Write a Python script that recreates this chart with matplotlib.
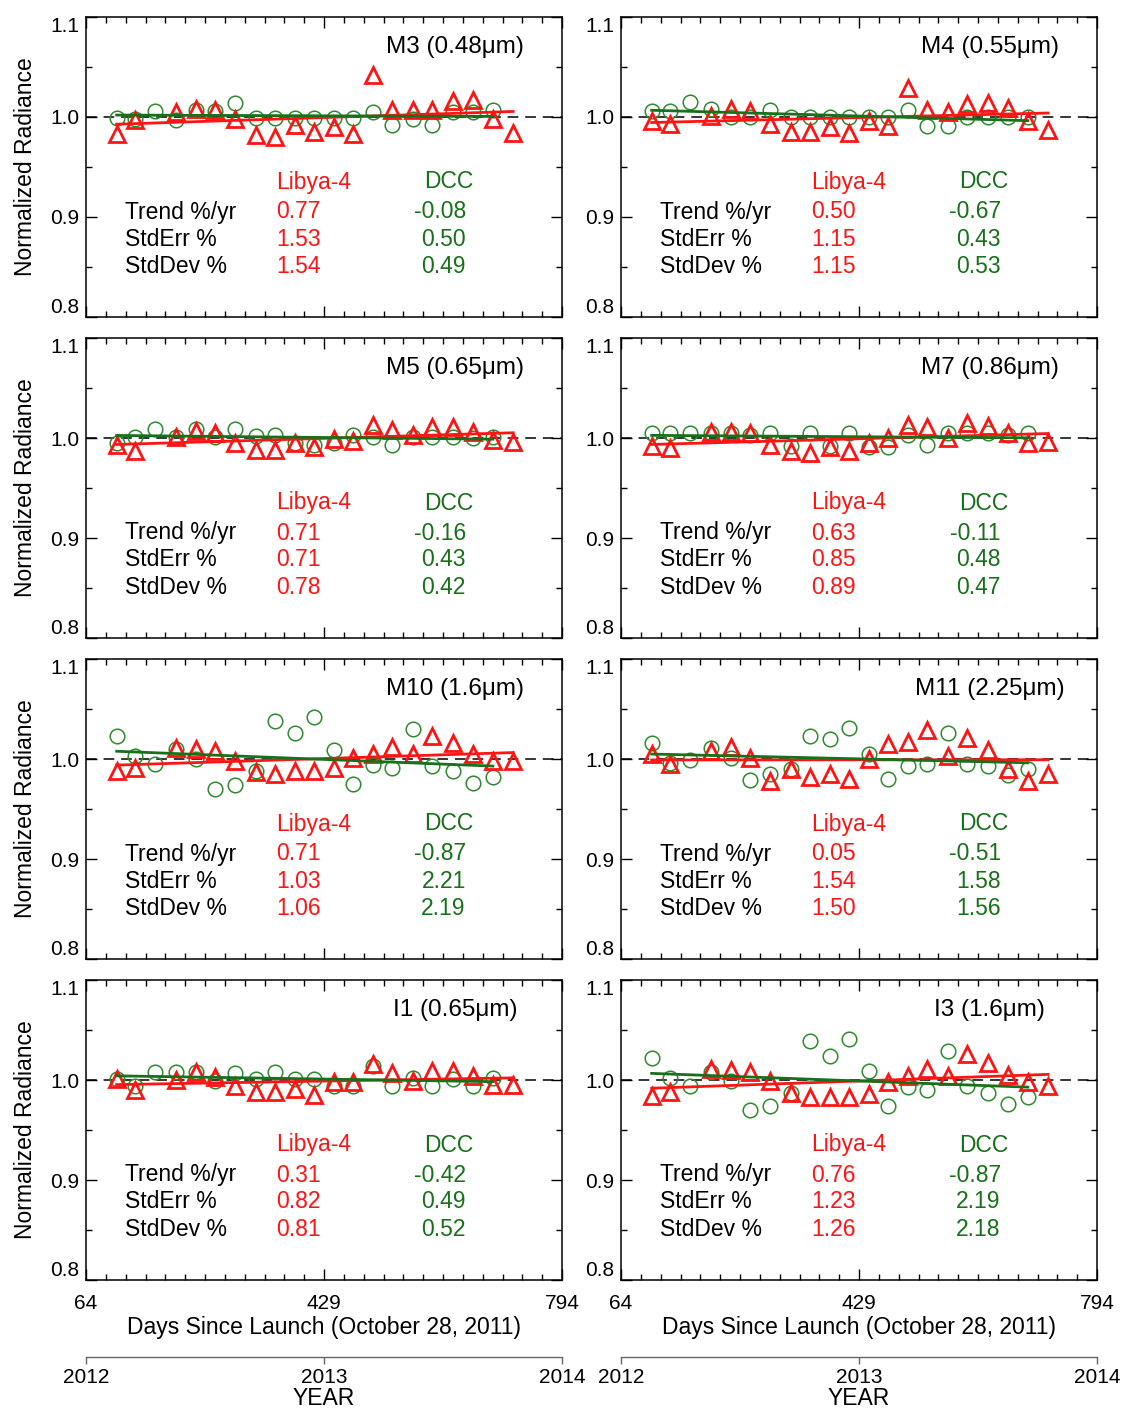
import numpy as np
import matplotlib
matplotlib.use('Agg')
import matplotlib.pyplot as plt
from matplotlib.ticker import FixedLocator, MultipleLocator, NullLocator

plt.rcParams['font.family'] = ['Liberation Sans', 'DejaVu Sans']

# days since launch of the monthly points
dcc_days = [111, 139, 170, 202, 232, 262, 293, 324, 354, 384,
            414, 445, 474, 504, 534, 565, 595, 627, 657, 688]
lib_days = [111, 139, 202, 232, 262, 293, 324, 354, 384, 414,
            445, 474, 504, 534, 565, 595, 627, 657, 688, 719]

bands = ["M3 (0.48\u03bcm)", "M4 (0.55\u03bcm)", "M5 (0.65\u03bcm)", "M7 (0.86\u03bcm)",
         "M10 (1.6\u03bcm)", "M11 (2.25\u03bcm)", "I1 (0.65\u03bcm)", "I3 (1.6\u03bcm)"]

lib_m3 = [0.983, 0.997, 1.005, 1.008, 1.007, 0.998, 0.982, 0.980, 0.992, 0.985,
          0.990, 0.983, 1.042, 1.007, 1.007, 1.007, 1.016, 1.017, 0.998, 0.984]
dcc_m3 = [0.999, 0.998, 1.006, 0.997, 1.007, 1.006, 1.014, 0.999, 0.999, 0.999,
          0.999, 0.999, 0.999, 1.005, 0.992, 0.998, 0.992, 1.005, 1.005, 1.007]
lib_m4 = [0.996, 0.993, 1.001, 1.008, 1.006, 0.993, 0.985, 0.985, 0.990, 0.984,
          0.996, 0.991, 1.029, 1.007, 1.005, 1.013, 1.014, 1.009, 0.996, 0.987]
dcc_m4 = [1.006, 1.006, 1.015, 1.008, 1.000, 1.000, 1.007, 1.000, 1.000, 1.000,
          1.000, 1.000, 1.000, 1.007, 0.991, 0.991, 1.000, 1.000, 1.000, 1.000]
lib_m5 = [0.993, 0.987, 1.001, 1.007, 1.005, 0.995, 0.988, 0.988, 0.995, 0.991,
          0.999, 0.997, 1.013, 1.008, 1.003, 1.011, 1.011, 1.006, 0.998, 0.996]
dcc_m5 = [0.995, 1.001, 1.009, 1.001, 1.009, 1.001, 1.009, 1.002, 1.003, 0.995,
          0.993, 0.995, 1.003, 1.001, 0.993, 1.001, 1.001, 1.001, 1.000, 1.001]
lib_m7 = [0.992, 0.990, 1.006, 1.006, 1.005, 0.993, 0.987, 0.985, 0.991, 0.987,
          0.995, 1.000, 1.013, 1.011, 1.000, 1.015, 1.012, 1.005, 0.995, 0.996]
dcc_m7 = [1.005, 1.005, 1.005, 1.005, 1.005, 1.003, 1.005, 0.992, 1.005, 0.992,
          1.005, 0.991, 0.991, 1.003, 0.993, 1.005, 1.005, 1.005, 1.003, 1.005]
lib_m10 = [0.988, 0.991, 1.011, 1.010, 1.008, 0.998, 0.987, 0.985, 0.988, 0.988,
           0.991, 1.001, 1.005, 1.012, 1.005, 1.023, 1.016, 1.005, 0.998, 0.998]
dcc_m10 = [1.023, 1.003, 0.995, 1.010, 1.000, 0.970, 0.974, 0.988, 1.038, 1.026,
           1.042, 1.009, 0.975, 0.994, 0.991, 1.030, 0.993, 0.988, 0.976, 0.982]
lib_m11 = [1.005, 0.995, 1.008, 1.012, 1.001, 0.978, 0.990, 0.982, 0.985, 0.980,
           1.000, 1.015, 1.017, 1.029, 1.003, 1.021, 1.009, 0.990, 0.978, 0.985]
dcc_m11 = [1.016, 0.996, 0.999, 1.011, 1.001, 0.979, 0.985, 0.990, 1.023, 1.020,
           1.031, 1.005, 0.980, 0.993, 0.995, 1.026, 0.995, 0.993, 0.984, 0.990]
lib_i1 = [1.001, 0.990, 1.000, 1.008, 1.003, 0.994, 0.988, 0.988, 0.991, 0.985,
          0.998, 0.998, 1.016, 1.007, 0.999, 1.009, 1.009, 1.004, 0.995, 0.995]
dcc_i1 = [1.001, 0.994, 1.008, 1.008, 1.008, 0.999, 1.007, 1.001, 1.008, 1.001,
          1.001, 0.994, 0.994, 1.014, 0.994, 1.002, 0.994, 1.001, 0.994, 1.002]
lib_i3 = [0.984, 0.988, 1.011, 1.010, 1.008, 0.999, 0.987, 0.983, 0.983, 0.983,
          0.986, 0.998, 1.004, 1.011, 1.004, 1.026, 1.017, 1.005, 0.998, 0.994]
dcc_i3 = [1.022, 1.002, 0.994, 1.008, 0.999, 0.970, 0.974, 0.987, 1.039, 1.024,
          1.041, 1.009, 0.974, 0.993, 0.990, 1.029, 0.994, 0.987, 0.976, 0.983]

lib_trend = ["0.77", "0.50", "0.71", "0.63", "0.71", "0.05", "0.31", "0.76"]
lib_stderr = ["1.53", "1.15", "0.71", "0.85", "1.03", "1.54", "0.82", "1.23"]
lib_stddev = ["1.54", "1.15", "0.78", "0.89", "1.06", "1.50", "0.81", "1.26"]
dcc_trend = ["-0.08", "-0.67", "-0.16", "-0.11", "-0.87", "-0.51", "-0.42", "-0.87"]
dcc_stderr = ["0.50", "0.43", "0.43", "0.48", "2.21", "1.58", "0.49", "2.19"]
dcc_stddev = ["0.49", "0.53", "0.42", "0.47", "2.19", "1.56", "0.52", "2.18"]

lib_all = [lib_m3, lib_m4, lib_m5, lib_m7, lib_m10, lib_m11, lib_i1, lib_i3]
dcc_all = [dcc_m3, dcc_m4, dcc_m5, dcc_m7, dcc_m10, dcc_m11, dcc_i1, dcc_i3]

RED = '#ff1414'
GREEN = '#17701a'
GREEN_M = '#2f8a2f'
FS = 16.5
TFS = 15

fig = plt.figure(figsize=(11.22, 14.09), dpi=100)
lefts = [86 / 1122, 621 / 1122]
w = 476 / 1122
h = 300 / 1409
tops = [17, 338, 659, 980]

for i in range(8):
    row, col = divmod(i, 2)
    ax = fig.add_axes([lefts[col], 1 - (tops[row] + 300) / 1409, w, h])
    lib = np.array(lib_all[i])
    dcc = np.array(dcc_all[i])

    ax.axhline(1.0, color='k', ls=(0, (7, 4.5)), lw=1.1, zorder=1)
    ax.plot(dcc_days, dcc, 'o', mfc='none', mec=GREEN_M, ms=10.5, mew=1.1, zorder=2)
    ax.plot(lib_days, lib, '^', mfc='none', mec=RED, ms=11.5, mew=2.0, zorder=3)

    # linear trend lines
    p = np.polyfit(lib_days, lib, 1)
    xs = np.array([lib_days[0], lib_days[-1]])
    ax.plot(xs, np.polyval(p, xs), color=RED, lw=2, zorder=4)
    p = np.polyfit(dcc_days, dcc, 1)
    xs = np.array([dcc_days[0], dcc_days[-1]])
    ax.plot(xs, np.polyval(p, xs), color=GREEN, lw=2, zorder=5)

    ax.set_xlim(64, 794)
    ax.set_ylim(0.8, 1.1)
    ax.set_xticks([64, 429, 794])
    ax.xaxis.set_minor_locator(FixedLocator(np.arange(64, 795, 365 / 12)))
    ax.set_yticks([0.8, 0.9, 1.0, 1.1])
    ylabs = ax.set_yticklabels(["0.8", "0.9", "1.0", "1.1"])
    ylabs[0].set_va('bottom')
    ylabs[-1].set_va('top')
    ax.yaxis.set_minor_locator(MultipleLocator(0.05))
    ax.tick_params(which='both', direction='in', top=True, right=True, width=1.0)
    ax.tick_params(which='major', length=8, labelsize=TFS)
    ax.tick_params(which='minor', length=4)
    ax.tick_params(axis='y', pad=5)
    ax.tick_params(axis='x', pad=10)
    for s in ax.spines.values():
        s.set_linewidth(1.1)

    if row == 3:
        ax.set_xlabel("Days Since Launch (October 28, 2011)", fontsize=FS, labelpad=2)
        sec = ax.secondary_xaxis(-77 / 300, functions=(lambda d: 2012 + (d - 64) / 365.0,
                                                        lambda y: 64 + (y - 2012) * 365.0))
        sec.set_xticks([2012, 2013, 2014])
        sec.set_xticklabels(["2012", "2013", "2014"])
        sec.xaxis.set_minor_locator(NullLocator())
        sec.tick_params(length=5, width=1.0, color='0.4', labelsize=TFS, pad=3)
        sec.spines['bottom'].set_color('0.4')
        sec.spines['bottom'].set_linewidth(1.0)
        sec.set_xlabel("YEAR", fontsize=FS, labelpad=0)
    else:
        ax.set_xticklabels([])

    if col == 0:
        ax.set_ylabel("Normalized Radiance", fontsize=FS, labelpad=9)

    ax.text(0.775, 0.9, bands[i], transform=ax.transAxes, fontsize=17.5,
            ha='center', va='center')
    ax.text(0.40, 0.45, "Libya-4", color=RED, transform=ax.transAxes, fontsize=FS, va='center')
    ax.text(0.813, 0.45, "DCC", color=GREEN, transform=ax.transAxes, fontsize=FS,
            va='center', ha='right')
    rows = ["Trend %/yr", "StdErr %", "StdDev %"]
    lvals = [lib_trend[i], lib_stderr[i], lib_stddev[i]]
    dvals = [dcc_trend[i], dcc_stderr[i], dcc_stddev[i]]
    for k, yy in enumerate([0.35, 0.26, 0.167]):
        ax.text(0.082, yy, rows[k], transform=ax.transAxes, fontsize=FS, va='center')
        ax.text(0.40, yy, lvals[k], color=RED, transform=ax.transAxes, fontsize=FS, va='center')
        ax.text(0.798, yy, dvals[k], color=GREEN, transform=ax.transAxes, fontsize=FS,
                va='center', ha='right')

fig.savefig('out.png', dpi=100)
